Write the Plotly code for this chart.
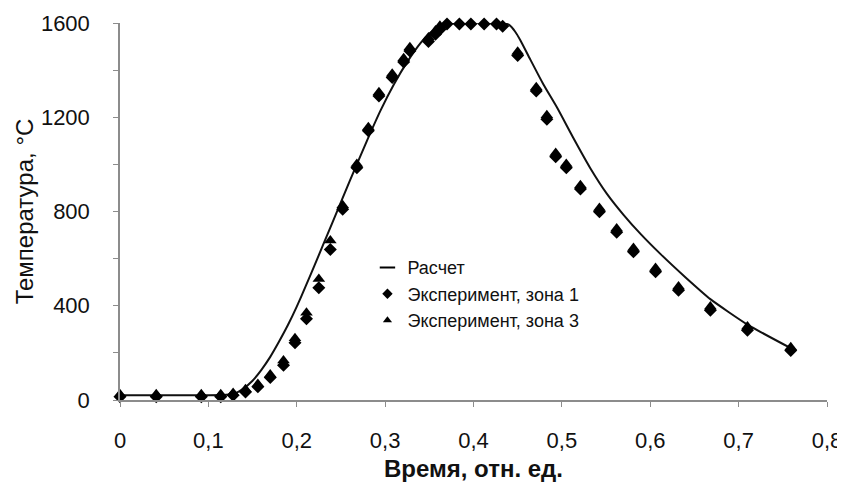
import plotly.graph_objects as go

# Calculated curve (Расчет)
calc_x = [0.0, 0.10, 0.12, 0.13, 0.14, 0.15, 0.16, 0.17, 0.18, 0.19, 0.20, 0.21, 0.22, 0.24, 0.26,
          0.28, 0.295, 0.31, 0.325, 0.34, 0.35, 0.36, 0.37, 0.38, 0.43, 0.436, 0.441, 0.447, 0.453,
          0.464, 0.479, 0.495, 0.513, 0.532, 0.551, 0.570, 0.589, 0.612, 0.640, 0.668, 0.710, 0.759]
calc_y = [20, 20, 22, 28, 50, 82, 128, 183, 248, 318, 396, 482, 570, 750, 930,
          1105, 1230, 1340, 1435, 1515, 1555, 1583, 1597, 1600, 1600, 1598, 1590, 1564, 1527,
          1447, 1340, 1238, 1112, 985, 875, 785, 705, 618, 520, 428, 320, 220]

# Experiment, zone 1 (diamonds)
z1_x = [0.0, 0.041, 0.092, 0.114, 0.128, 0.142, 0.156, 0.170, 0.185, 0.198, 0.211, 0.225, 0.238,
        0.252, 0.268, 0.281, 0.293, 0.308, 0.321, 0.328, 0.349, 0.357, 0.362, 0.370, 0.384, 0.397,
        0.412, 0.426, 0.433, 0.450, 0.471, 0.483, 0.493, 0.505, 0.521, 0.5425, 0.562, 0.581,
        0.606, 0.632, 0.668, 0.710, 0.759]
z1_y = [14, 14, 14, 14, 20, 34, 56, 96, 148, 243, 345, 476, 639,
        810, 986, 1143, 1290, 1369, 1434, 1481, 1522, 1552, 1572, 1596, 1596, 1596,
        1596, 1596, 1586, 1462, 1311, 1192, 1032, 986, 895, 799, 712, 629,
        544, 466, 381, 296, 210]

# Experiment, zone 3 (triangles)
z3_x = [0.0, 0.041, 0.092, 0.114, 0.128, 0.142, 0.156, 0.170, 0.185, 0.198, 0.211, 0.225, 0.238,
        0.252, 0.268, 0.281, 0.293, 0.308, 0.321, 0.328, 0.349, 0.357, 0.362, 0.370, 0.384, 0.397,
        0.412, 0.426, 0.433, 0.450, 0.471, 0.483, 0.493, 0.505, 0.521, 0.5425, 0.562, 0.581,
        0.606, 0.632, 0.668, 0.710, 0.759]
z3_y = [24, 24, 24, 24, 30, 46, 68, 108, 168, 262, 370, 514, 677,
        826, 1002, 1158, 1306, 1385, 1450, 1497, 1538, 1568, 1588, 1612, 1612, 1612,
        1612, 1612, 1602, 1478, 1327, 1208, 1048, 1002, 911, 815, 728, 645,
        560, 482, 397, 312, 224]

x_ticks = [0, 0.1, 0.2, 0.3, 0.4, 0.5, 0.6, 0.7, 0.8]
x_tick_labels = ["0", "0,1", "0,2", "0,3", "0,4", "0,5", "0,6", "0,7", "0,8"]
y_ticks = [0, 400, 800, 1200, 1600]
y_tick_labels = ["0", "400", "800", "1200", "1600"]

FONT = "Liberation Sans, Arial, sans-serif"
AX = "#8c8c8c"

fig = go.Figure()
fig.add_trace(go.Scatter(x=calc_x, y=calc_y, mode="lines", line=dict(color="#111", width=2, shape="spline", smoothing=0.5),
                         showlegend=False, cliponaxis=False))
fig.add_trace(go.Scatter(x=z1_x, y=z1_y, mode="markers", name="Эксперимент, зона 1",
                         marker=dict(symbol="diamond", size=10, color="#000"), showlegend=False, cliponaxis=False))
fig.add_trace(go.Scatter(x=z3_x, y=z3_y, mode="markers", name="Эксперимент, зона 3",
                         marker=dict(symbol="triangle-up", size=11, color="#000"), showlegend=False, cliponaxis=False))
# legend entries
fig.add_trace(go.Scatter(x=[None], y=[None], mode="markers", name="Расчет",
                         marker=dict(symbol="line-ew-open", size=11, color="#000", line=dict(color="#000", width=2))))
fig.add_trace(go.Scatter(x=[None], y=[None], mode="markers", name="Эксперимент, зона 1",
                         marker=dict(symbol="diamond", size=8, color="#000")))
fig.add_trace(go.Scatter(x=[None], y=[None], mode="markers", name="Эксперимент, зона 3",
                         marker=dict(symbol="triangle-up", size=8, color="#000")))

# the page body adds an 8px offset; the figure is sized so the plot lands where the reference has it
fig.update_layout(
    width=837, height=474,
    margin=dict(l=112, r=18, t=15, b=82),
    paper_bgcolor="white", plot_bgcolor="white",
    font=dict(family=FONT, color="#111", size=18),
    legend=dict(x=0.35, y=0.40, xanchor="left", yanchor="top", bgcolor="rgba(0,0,0,0)",
                font=dict(size=18, family=FONT), tracegroupgap=0, itemwidth=30),
    xaxis=dict(range=[0, 0.8], tickvals=x_ticks, ticktext=x_tick_labels, showgrid=False, zeroline=False,
               automargin=False,
               showline=True, linecolor=AX, linewidth=1.5, ticks="outside", ticklen=5, tickcolor=AX,
               tickfont=dict(size=22, family=FONT, color="#111"), ticklabelstandoff=15,
               title=dict(text="<b>Время, отн. ед.</b>", font=dict(size=24, family=FONT, color="#111"), standoff=9)),
    yaxis=dict(range=[0, 1600], tickvals=y_ticks, ticktext=y_tick_labels, showgrid=False, zeroline=False,
               automargin=False,
               showline=True, linecolor=AX, linewidth=1.5, ticks="outside", ticklen=5, tickcolor=AX,
               minor=dict(dtick=200, tick0=0, ticks="outside", ticklen=5, tickcolor=AX),
               tickfont=dict(size=22, family=FONT, color="#111"), ticklabelstandoff=19,
               title=dict(text="Температура, °С", font=dict(size=24, family=FONT, color="#111"), standoff=0)),
)

fig.write_html("out.html")
